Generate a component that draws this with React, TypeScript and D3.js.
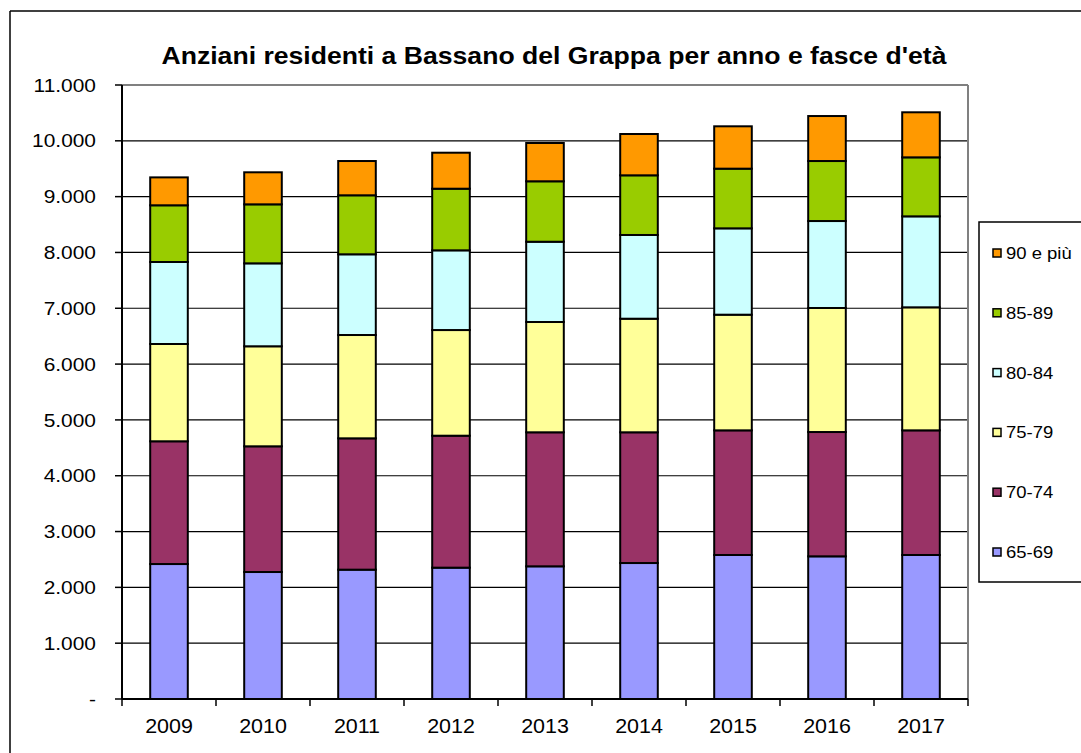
import React from 'react';
import * as d3 from 'd3';

const years = ['2009', '2010', '2011', '2012', '2013', '2014', '2015', '2016', '2017'];
const ageGroups = ['65-69', '70-74', '75-79', '80-84', '85-89', '90 e più'];

// values per age group, one per year
const v6569 = [2418, 2275, 2317, 2353, 2377, 2436, 2580, 2556, 2580];
const v7074 = [2199, 2252, 2353, 2364, 2401, 2342, 2233, 2227, 2233];
const v7579 = [1743, 1792, 1851, 1893, 1976, 2035, 2072, 2222, 2204];
const v8084 = [1469, 1486, 1446, 1428, 1438, 1500, 1547, 1558, 1630];
const v8589 = [1016, 1057, 1057, 1104, 1083, 1069, 1069, 1075, 1057];
const v90 = [500, 574, 614, 645, 686, 740, 759, 806, 807];

const colors = ['#9999FF', '#993366', '#FFFF99', '#CCFFFF', '#99CC00', '#FF9900'];
const yTicks = [0, 1000, 2000, 3000, 4000, 5000, 6000, 7000, 8000, 9000, 10000, 11000];

const FONT = '"Liberation Sans", Arial, sans-serif';

const App: React.FC = () => {
  const width = 1081;
  const height = 753;
  const plot = { left: 122, right: 968, top: 85, bottom: 699 };

  const series = [v6569, v7074, v7579, v8084, v8589, v90];
  const rows = years.map((year, i) => {
    const row: any = { year };
    ageGroups.forEach((g, k) => { row[g] = series[k][i]; });
    return row;
  });
  const stacked = d3.stack<any>().keys(ageGroups)(rows);

  const x = d3.scaleBand()
    .domain(years)
    .range([plot.left, plot.right])
    .paddingInner(0.6)
    .paddingOuter(0.3);

  const y = d3.scaleLinear()
    .domain([0, 11000])
    .range([plot.bottom, plot.top]);

  const fmt = (d: number) => d === 0 ? '-' : d3.format(',')(d).replace(/,/g, '.');
  const step = x.step();
  const boundaries = d3.range(years.length + 1).map(i => plot.left + i * step);

  // legend, top entry is the last series
  const legendItems = [...ageGroups].reverse();
  const legendY = d3.scalePoint().domain(legendItems).range([253, 552]);

  return (
    <svg width={width} height={height} style={{ position: 'absolute', left: 0, top: 0, background: '#fff' }}>
      <rect x={0} y={0} width={width} height={height} fill="#fff" />
      {/* outer frame */}
      <line x1={10} y1={11} x2={width} y2={11} stroke="#000" strokeWidth={1.5} />
      <line x1={10} y1={11} x2={10} y2={height} stroke="#000" strokeWidth={1.5} />

      <text x={554} y={64} textAnchor="middle" fontFamily={FONT} fontWeight="bold" fontSize={24.5}
        textLength={785} lengthAdjust="spacingAndGlyphs" fill="#000">
        Anziani residenti a Bassano del Grappa per anno e fasce d'età
      </text>

      {/* gridlines */}
      {yTicks.filter(t => t > 0 && t < 11000).map(t => (
        <line key={t} x1={plot.left} x2={plot.right} y1={y(t)} y2={y(t)} stroke="#000" strokeWidth={1.2} />
      ))}

      {/* plot border top/right */}
      <line x1={plot.left} x2={plot.right} y1={plot.top} y2={plot.top} stroke="#808080" strokeWidth={2} />
      <line x1={plot.right} x2={plot.right} y1={plot.top} y2={plot.bottom} stroke="#808080" strokeWidth={2} />

      {/* bars */}
      {stacked.map((layer, k) => (
        <g key={layer.key}>
          {layer.map((d, i) => (
            <rect key={years[i]}
              x={x(years[i])!}
              y={y(d[1])}
              width={x.bandwidth()}
              height={y(d[0]) - y(d[1])}
              fill={colors[k]}
              stroke="#000"
              strokeWidth={2} />
          ))}
        </g>
      ))}

      {/* y axis */}
      <line x1={plot.left} x2={plot.left} y1={plot.top} y2={plot.bottom} stroke="#000" strokeWidth={2} />
      {yTicks.map(t => (
        <g key={t}>
          <line x1={plot.left - 7} x2={plot.left} y1={y(t)} y2={y(t)} stroke="#000" strokeWidth={1.5} />
          <text x={96} y={y(t)} dy="0.35em" textAnchor="end" fontFamily={FONT} fontSize={19}
            transform={`translate(96,0) scale(1.1,1) translate(-96,0)`} fill="#000">
            {fmt(t)}
          </text>
        </g>
      ))}

      {/* x axis */}
      <line x1={plot.left} x2={plot.right} y1={plot.bottom} y2={plot.bottom} stroke="#000" strokeWidth={2} />
      {boundaries.map((b, i) => (
        <line key={i} x1={b} x2={b} y1={plot.bottom} y2={plot.bottom + 7} stroke="#000" strokeWidth={1.5} />
      ))}
      {years.map(yr => {
        const cx = x(yr)! + x.bandwidth() / 2;
        return (
          <text key={yr} x={cx} y={733} textAnchor="middle" fontFamily={FONT} fontSize={19.5}
            transform={`translate(${cx},0) scale(1.1,1) translate(${-cx},0)`} fill="#000">
            {yr}
          </text>
        );
      })}

      {/* legend */}
      <rect x={979} y={222} width={width - 979 + 5} height={360} fill="#fff" stroke="#000" strokeWidth={1.5} />
      {legendItems.map(g => {
        const k = ageGroups.indexOf(g);
        const cy = legendY(g)!;
        return (
          <g key={g}>
            <rect x={993} y={cy - 4} width={8} height={8} fill={colors[k]} stroke="#000" strokeWidth={1.5} />
            <text x={1006} y={cy} dy="0.36em" fontFamily={FONT} fontSize={16.5}
              transform={`translate(1006,0) scale(1.12,1) translate(-1006,0)`} fill="#000">
              {g}
            </text>
          </g>
        );
      })}
    </svg>
  );
};

export default App;
